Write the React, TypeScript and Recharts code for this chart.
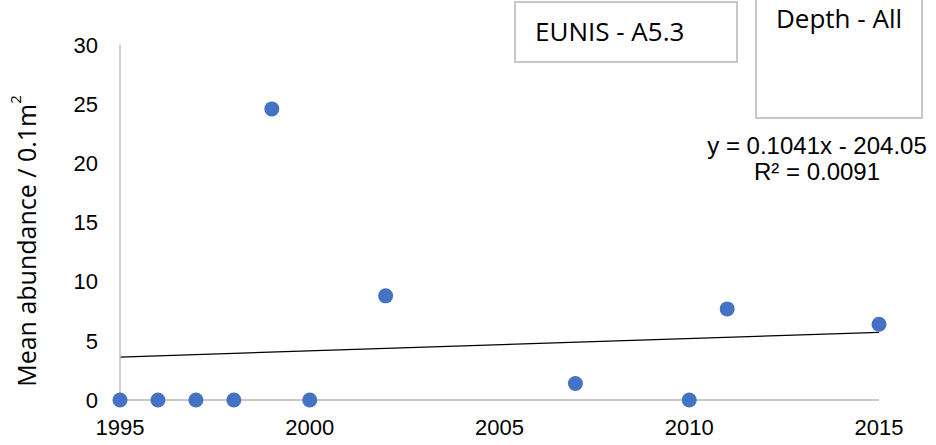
import { ReferenceLine, Scatter, ScatterChart, XAxis, YAxis } from "recharts";

const years = [1995, 1996, 1997, 1998, 1999, 2000, 2002, 2007, 2010, 2011, 2015];
const abundance = [0, 0, 0, 0, 24.6, 0, 8.8, 1.4, 0, 7.7, 6.4];
const xTicks = [1995, 2000, 2005, 2010, 2015];
const yTicks = [0, 5, 10, 15, 20, 25, 30];

// linear trend as given by the fitted equation on the chart
const slope = 0.1041;
const intercept = -204.05;
const trendEnds = [1995, 2015];

const points = years.map((year, i) => ({ year, value: abundance[i] }));

const font = "'Liberation Sans', Arial, sans-serif";
const boxFont = "'Open Sans', 'Liberation Sans', sans-serif";

function Dot(props: any) {
  return <circle cx={props.cx} cy={props.cy} r={7.5} fill="#4472C4" />;
}

function YLabel() {
  const cx = 26;
  const cy = 241;
  return (
    <text
      x={cx}
      y={cy}
      transform={`rotate(-90 ${cx} ${cy})`}
      textAnchor="middle"
      dominantBaseline="central"
      fontSize={25}
      fontFamily={boxFont}
      fill="#000"
    >
      Mean abundance / 0.1m
      <tspan dy={-11} fontSize={15}>
        2
      </tspan>
    </text>
  );
}

export default function App() {
  return (
    <div style={{ position: "absolute", left: 0, top: 0, width: 936, height: 445, background: "#fff" }}>
      <ScatterChart width={936} height={445} margin={{ top: 45, right: 57, bottom: 0, left: 0 }}>
        <XAxis
          type="number"
          dataKey="year"
          domain={[1995, 2015]}
          ticks={xTicks}
          tickLine={false}
          tickSize={0}
          tickMargin={19}
          height={45}
          axisLine={{ stroke: "#c8c8c8", strokeWidth: 2 }}
          tick={{ fill: "#000", fontSize: 22, fontFamily: font }}
        />
        <YAxis
          type="number"
          dataKey="value"
          domain={[0, 30]}
          ticks={yTicks}
          tickLine={false}
          tickSize={0}
          tickMargin={22}
          width={120}
          axisLine={{ stroke: "#c0c0c0", strokeWidth: 1.5 }}
          tick={{ fill: "#000", fontSize: 22, fontFamily: font }}
          label={<YLabel />}
        />
        <ReferenceLine
          segment={trendEnds.map((x) => ({ x, y: slope * x + intercept }))}
          stroke="#000"
          strokeWidth={1.2}
          ifOverflow="visible"
        />
        <Scatter data={points} shape={<Dot />} isAnimationActive={false} />
      </ScatterChart>

      <div
        style={{
          position: "absolute",
          left: 514,
          top: 1,
          width: 224,
          height: 62,
          border: "2px solid #c8c8c8",
          fontFamily: boxFont,
          fontSize: 26,
          lineHeight: "56px",
          paddingLeft: 19,
          boxSizing: "border-box",
          whiteSpace: "nowrap",
        }}
      >
        EUNIS - A5.3
      </div>
      <div
        style={{
          position: "absolute",
          left: 755,
          top: 0,
          width: 168,
          height: 119,
          border: "2px solid #c8c8c8",
          borderTop: "none",
          fontFamily: boxFont,
          fontSize: 26,
          lineHeight: "36px",
          textAlign: "center",
          paddingTop: 0,
          boxSizing: "border-box",
          whiteSpace: "nowrap",
        }}
      >
        Depth - All
      </div>
      <div
        style={{
          position: "absolute",
          left: 700,
          top: 133,
          width: 234,
          textAlign: "center",
          fontFamily: font,
          fontSize: 24,
          lineHeight: "26px",
          whiteSpace: "nowrap",
        }}
      >
        y = 0.1041x - 204.05
        <br />
        R² = 0.0091
      </div>
    </div>
  );
}
